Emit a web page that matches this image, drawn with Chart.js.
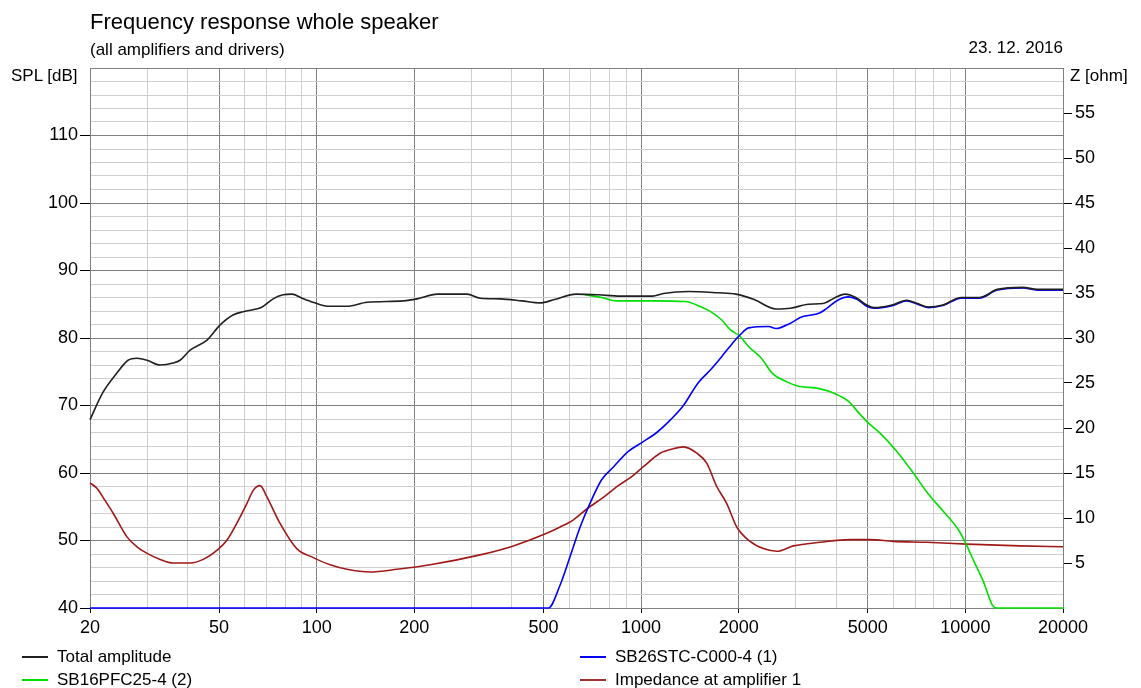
<!DOCTYPE html>
<html>
<head>
<meta charset="utf-8">
<script src="https://cdn.jsdelivr.net/npm/chart.js@4/dist/chart.umd.min.js"></script>
<style>
  body { margin: 0; background: #fff; }
  #wrap { position: relative; width: 1141px; height: 688px; font-family: 'Liberation Sans', Arial, sans-serif; color: #000; }
  #wrap canvas { position: absolute; left: 0; top: 0; }
  .txt { position: absolute; white-space: nowrap; line-height: 1; }
  .key { position: absolute; height: 2px; width: 26px; }
</style>
</head>
<body>
<div id="wrap">
  <canvas id="speakerChart" width="1141" height="688"></canvas>
  <div class="txt" style="left:90px; top:11px; font-size:22px;">Frequency response whole speaker</div>
  <div class="txt" style="left:90px; top:41px; font-size:17px;">(all amplifiers and drivers)</div>
  <div class="txt" style="right:78px; top:39px; font-size:17px;">23. 12. 2016</div>
  <div class="txt" style="left:11px; top:67px; font-size:17px;">SPL [dB]</div>
  <div class="txt" style="left:1070px; top:67px; font-size:17px;">Z [ohm]</div>

  <div class="key" style="left:22px; top:656px; background:#202020;"></div>
  <div class="txt" style="left:57px; top:648px; font-size:17px;">Total amplitude</div>
  <div class="key" style="left:22px; top:679px; background:#00e000;"></div>
  <div class="txt" style="left:57px; top:671px; font-size:17px;">SB16PFC25-4 (2)</div>
  <div class="key" style="left:580px; top:656px; background:#0000ff;"></div>
  <div class="txt" style="left:615px; top:648px; font-size:17px;">SB26STC-C000-4 (1)</div>
  <div class="key" style="left:580px; top:679px; background:#a03030;"></div>
  <div class="txt" style="left:615px; top:671px; font-size:17px;">Impedance at amplifier 1</div>
</div>
<script>
// Summed response of both ways
const freqTotal = [20, 21.9, 24.2, 26.2, 27.9, 30, 32.9, 36.1, 37.9, 40.7, 45.9, 50.3, 55.2, 59.3, 67.9, 73.4, 78.8, 83.9, 90.1, 97.4,
  108, 124, 143, 185, 204, 235, 291, 319, 368, 429, 488, 541, 631, 737, 861, 1085, 1172, 1403, 1726, 1962,
  2232, 2606, 2888, 3285, 3642, 3935, 4252, 4594, 4964, 5228, 5944, 6590, 7118, 7689, 8523, 9700, 11030, 12550, 15030, 16670, 20000];
const splTotal = [67.9, 71.9, 74.8, 76.7, 77.0, 76.7, 76.0, 76.3, 76.7, 78.2, 79.7, 81.9, 83.4, 83.9, 84.6, 85.8, 86.4, 86.5, 85.9, 85.3,
  84.7, 84.7, 85.3, 85.5, 85.8, 86.5, 86.5, 85.9, 85.8, 85.5, 85.2, 85.7, 86.5, 86.4, 86.2, 86.2, 86.6, 86.9, 86.7, 86.5,
  85.7, 84.3, 84.4, 85.0, 85.1, 85.9, 86.5, 86.0, 84.9, 84.5, 84.9, 85.6, 85.1, 84.6, 84.9, 86.0, 86.0, 87.2, 87.5, 87.2, 87.2];

// Tweeter
const freqTweeter = [20, 518, 563, 604, 649, 696, 756, 822, 914, 1005, 1118, 1234, 1351, 1497, 1638, 1770, 1913, 2014, 2148, 2475,
  2606, 2888, 3122, 3550, 3740, 4040, 4364, 4652, 4964, 5228, 5944, 6590, 7118, 7689, 8523, 9700, 11030, 12550, 15030, 16670, 20000];
const splTweeter = [40, 40, 43.4, 47.6, 52.0, 55.5, 59.0, 60.9, 63.2, 64.5, 66.0, 67.9, 70.0, 73.3, 75.3, 77.2, 79.2, 80.4, 81.5, 81.7,
  81.4, 82.2, 83.1, 83.7, 84.4, 85.6, 86.1, 85.7, 84.7, 84.4, 84.8, 85.5, 85.0, 84.5, 84.8, 85.9, 85.9, 87.1, 87.4, 87.1, 87.1];

// Woofer
const freqWoofer = [670, 756, 838, 1085, 1368, 1516, 1638, 1770, 1888, 2014, 2148, 2350, 2538, 2814, 3040, 3550, 3935, 4364, 4712,
  5000, 5458, 6148, 6915, 7604, 8558, 9518, 9977, 10584, 11366, 12118, 12504, 20000];
const splWoofer = [86.4, 86.0, 85.5, 85.5, 85.4, 84.7, 83.9, 82.7, 81.2, 80.3, 78.7, 77.0, 74.8, 73.5, 72.9, 72.5, 71.8, 70.6, 68.8,
  67.5, 65.9, 63.2, 60.0, 57.2, 54.3, 51.6, 49.8, 47.1, 43.9, 40.4, 40, 40];

// Impedance seen by the amplifier, ohm
const freqImpedance = [20, 21.0, 22.2, 23.6, 26.0, 27.9, 29.9, 32.9, 36.1, 40.7, 44.7, 49.2, 52.8, 56.7, 60.9, 63.8, 66.9, 70.1, 77.1, 86.8,
  97.6, 110, 124, 146, 177, 224, 319, 404, 512, 563, 619, 680, 765, 851, 936, 1017, 1145, 1258, 1351, 1486,
  1594, 1712, 1838, 1973, 2168, 2384, 2622, 2950, 3565, 4413, 5084, 5998, 7604, 10100, 14750, 20000];
const zImpedance = [13.9, 13.3, 12.0, 10.5, 7.9, 6.8, 6.1, 5.4, 5.0, 5.0, 5.4, 6.4, 7.5, 9.4, 11.6, 13.1, 13.6, 12.4, 9.4, 6.6,
  5.6, 4.8, 4.3, 4.0, 4.3, 4.8, 5.9, 6.9, 8.3, 9.0, 9.8, 11.0, 12.3, 13.6, 14.6, 15.7, 17.2, 17.7, 17.9, 17.2,
  16.1, 13.5, 11.6, 9.0, 7.4, 6.6, 6.3, 6.9, 7.3, 7.6, 7.6, 7.4, 7.3, 7.1, 6.9, 6.8];

// Axis ticks
const freqGrid = [20, 30, 40, 50, 60, 70, 80, 90, 100, 200, 300, 400, 500, 600, 700, 800, 900,
  1000, 2000, 3000, 4000, 5000, 6000, 7000, 8000, 9000, 10000, 20000];
const freqLabels = [20, 50, 100, 200, 500, 1000, 2000, 5000, 10000, 20000];
const splLabels = [40, 50, 60, 70, 80, 90, 100, 110];
const zLabels = [5, 10, 15, 20, 25, 30, 35, 40, 45, 50, 55];

const toPoints = (xs, ys) => xs.map((x, i) => ({ x: x, y: ys[i] }));

const MAJOR = '#808080';
const MINOR = '#cfcfcf';
const tickFont = { family: "'Liberation Sans', Arial, sans-serif", size: 18 };

const ctx = document.getElementById('speakerChart').getContext('2d');

new Chart(ctx, {
  type: 'line',
  data: {
    datasets: [
      { label: 'Total amplitude', data: toPoints(freqTotal, splTotal), borderColor: '#202020', yAxisID: 'y' },
      { label: 'SB26STC-C000-4 (1)', data: toPoints(freqTweeter, splTweeter), borderColor: '#0000ff', yAxisID: 'y' },
      { label: 'SB16PFC25-4 (2)', data: toPoints(freqWoofer, splWoofer), borderColor: '#00e000', yAxisID: 'y' },
      { label: 'Impedance at amplifier 1', data: toPoints(freqImpedance, zImpedance), borderColor: '#a01818', yAxisID: 'y1' }
    ]
  },
  options: {
    responsive: false,
    animation: false,
    devicePixelRatio: 1,
    layout: { padding: { top: 68, left: 0, right: 0, bottom: 0 } },
    datasets: { line: { clip: 4 } },
    elements: {
      point: { radius: 0 },
      line: { borderWidth: 1.6, cubicInterpolationMode: 'monotone', fill: false }
    },
    plugins: { legend: { display: false }, tooltip: { enabled: false }, title: { display: false } },
    scales: {
      x: {
        type: 'logarithmic',
        min: 20,
        max: 20000,
        afterBuildTicks: (scale) => { scale.ticks = freqGrid.map(v => ({ value: v })); },
        afterFit: (scale) => { scale.height = 80; },
        border: { color: MAJOR, z: -1 },
        grid: {
          z: -1,
          color: (c) => freqLabels.includes(c.tick.value) ? MAJOR : MINOR,
          tickColor: (c) => freqLabels.includes(c.tick.value) ? '#000' : 'rgba(0,0,0,0)',
          tickLength: 5
        },
        ticks: {
          autoSkip: false,
          maxRotation: 0,
          padding: 4,
          color: '#000',
          font: tickFont,
          callback: (v) => freqLabels.includes(v) ? String(v) : ''
        }
      },
      y: {
        position: 'left',
        min: 40,
        max: 120,
        afterFit: (scale) => { scale.width = 90; },
        border: { color: MAJOR, z: -1 },
        grid: {
          z: -1,
          color: (c) => c.tick.value % 10 === 0 ? MAJOR : MINOR,
          tickColor: (c) => splLabels.includes(c.tick.value) ? '#000' : 'rgba(0,0,0,0)',
          tickLength: 10
        },
        ticks: {
          stepSize: 2,
          autoSkip: false,
          padding: 2,
          color: '#000',
          font: tickFont,
          callback: (v) => splLabels.includes(v) ? String(v) : ''
        }
      },
      y1: {
        position: 'right',
        min: 0,
        max: 60,
        afterFit: (scale) => { scale.width = 78; },
        border: { color: MAJOR },
        grid: {
          drawOnChartArea: false,
          tickColor: (c) => zLabels.includes(c.tick.value) ? '#000' : 'rgba(0,0,0,0)',
          tickLength: 9
        },
        ticks: {
          stepSize: 5,
          autoSkip: false,
          padding: 3,
          color: '#000',
          font: tickFont,
          callback: (v) => zLabels.includes(v) ? String(v) : ''
        }
      }
    }
  }
});
</script>
</body>
</html>
